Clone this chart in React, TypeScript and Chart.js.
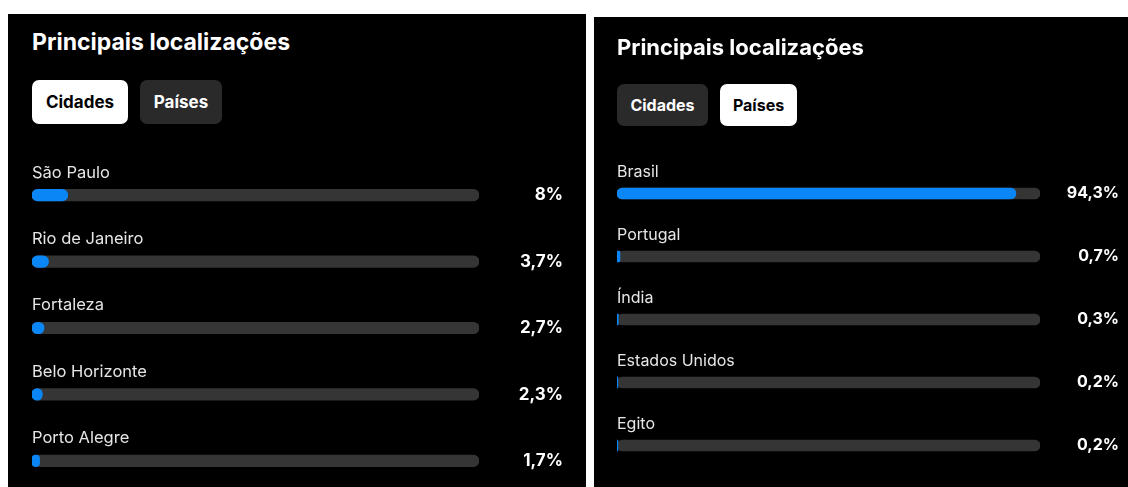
import React, { useEffect, useRef } from "react";
import { Chart, registerables } from "chart.js";

Chart.register(...registerables);

const titleText = "Principais localizações";
const tabLabels = ["Cidades", "Países"];
const cityLabels = ["São Paulo", "Rio de Janeiro", "Fortaleza", "Belo Horizonte", "Porto Alegre"];
const cityValues = [8, 3.7, 2.7, 2.3, 1.7];
const countryLabels = ["Brasil", "Portugal", "Índia", "Estados Unidos", "Egito"];
const countryValues = [94.3, 0.7, 0.3, 0.2, 0.2];
const scaleMax = 100;

const FONT = "Inter, 'Noto Sans', sans-serif";
const BLUE = "#0b86f7";
const TRACK = "#353535";

const fmt = (v: number) => String(v).replace(".", ",") + "%";

const rowLabelPlugin = {
  id: "rowLabels",
  afterDatasetsDraw(chart: any, _args: any, opts: any) {
    const { ctx, chartArea } = chart;
    const meta = chart.getDatasetMeta(1);
    const values = chart.data.datasets[0].data as number[];
    meta.data.forEach((el: any, i: number) => {
      const y = el.y;
      ctx.save();
      ctx.textBaseline = "middle";
      ctx.font = `400 ${opts.labelSize}px ${FONT}`;
      ctx.fillStyle = opts.labelColor;
      ctx.textAlign = "left";
      ctx.fillText(String(chart.data.labels[i]), chartArea.left, y + opts.labelOffset);
      ctx.font = `700 ${opts.valueSize}px ${FONT}`;
      ctx.fillStyle = "#ffffff";
      ctx.textAlign = "right";
      ctx.fillText(fmt(values[i]), opts.valueRight, y + opts.valueOffset);
      ctx.restore();
    });
  },
};

type PanelProps = {
  left: number;
  top: number;
  width: number;
  height: number;
  active: number;
  labels: string[];
  values: number[];
  pad: number;
  titleSize: number;
  titleTop: number;
  btnTop: number;
  btnH: number;
  btnW: number[];
  btnGap: number;
  btnSize: number;
  chartTop: number;
  chartH: number;
  barRight: number;
  valueRight: number;
  thickness: number;
  labelSize: number;
  valueSize: number;
  labelOffset: number;
};

function Panel(p: PanelProps) {
  const ref = useRef<HTMLCanvasElement>(null);
  useEffect(() => {
    if (!ref.current) return;
    const chart = new Chart(ref.current, {
      type: "bar",
      data: {
        labels: p.labels,
        datasets: [
          {
            data: p.values,
            backgroundColor: BLUE,
            grouped: false,
            order: 0,
            barThickness: p.thickness,
            borderRadius: p.thickness / 2,
            borderSkipped: false,
          } as any,
          {
            data: p.labels.map(() => scaleMax),
            backgroundColor: TRACK,
            grouped: false,
            order: 1,
            barThickness: p.thickness,
            borderRadius: p.thickness / 2,
            borderSkipped: false,
          } as any,
        ],
      },
      options: {
        indexAxis: "y",
        animation: false,
        responsive: false,
        events: [],
        layout: { padding: { left: p.pad, right: p.width - p.barRight, top: 0, bottom: 0 } },
        scales: {
          x: { display: false, min: 0, max: scaleMax },
          y: { display: false },
        },
        plugins: {
          legend: { display: false },
          tooltip: { enabled: false },
          rowLabels: {
            labelSize: p.labelSize,
            valueSize: p.valueSize,
            labelColor: "#e6e6e6",
            labelOffset: p.labelOffset,
            valueOffset: 0,
            valueRight: p.valueRight,
          },
        } as any,
      },
      plugins: [rowLabelPlugin],
    });
    return () => chart.destroy();
  }, []);

  let bx = p.pad;
  return (
    <div
      style={{
        position: "fixed",
        left: p.left,
        top: p.top,
        width: p.width,
        height: p.height,
        background: "#000",
        overflow: "hidden",
        fontFamily: FONT,
      }}
    >
      <div
        style={{
          position: "absolute",
          left: p.pad,
          top: p.titleTop,
          fontSize: p.titleSize,
          fontWeight: 700,
          color: "#fff",
          lineHeight: 1,
          whiteSpace: "nowrap",
        }}
      >
        {titleText}
      </div>
      {tabLabels.map((t, i) => {
        const x = bx;
        bx += p.btnW[i] + p.btnGap;
        const on = i === p.active;
        return (
          <div
            key={t}
            style={{
              position: "absolute",
              left: x,
              top: p.btnTop,
              width: p.btnW[i],
              height: p.btnH,
              borderRadius: 7,
              background: on ? "#ffffff" : "#2a2a2a",
              color: on ? "#000" : "#fff",
              fontSize: p.btnSize,
              fontWeight: 700,
              display: "flex",
              alignItems: "center",
              justifyContent: "center",
            }}
          >
            {t}
          </div>
        );
      })}
      <canvas
        ref={ref}
        width={p.width}
        height={p.chartH}
        style={{ position: "absolute", left: 0, top: p.chartTop, width: p.width, height: p.chartH }}
      />
    </div>
  );
}

export default function App() {
  return (
    <div>
      <Panel
        left={8}
        top={14}
        width={578}
        height={473}
        active={0}
        labels={cityLabels}
        values={cityValues}
        pad={24}
        titleSize={23}
        titleTop={17}
        btnTop={66}
        btnH={44}
        btnW={[96, 82]}
        btnGap={12}
        btnSize={17}
        chartTop={148}
        chartH={332}
        barRight={471}
        valueRight={555}
        thickness={11.5}
        labelSize={16.5}
        valueSize={17}
        labelOffset={-22.5}
      />
      <Panel
        left={594}
        top={17}
        width={534}
        height={470}
        active={1}
        labels={countryLabels}
        values={countryValues}
        pad={23}
        titleSize={22}
        titleTop={19}
        btnTop={67}
        btnH={42}
        btnW={[91, 77]}
        btnGap={12}
        btnSize={16}
        chartTop={144.5}
        chartH={315}
        barRight={446}
        valueRight={525}
        thickness={11}
        labelSize={16}
        valueSize={16}
        labelOffset={-21.5}
      />
    </div>
  );
}
